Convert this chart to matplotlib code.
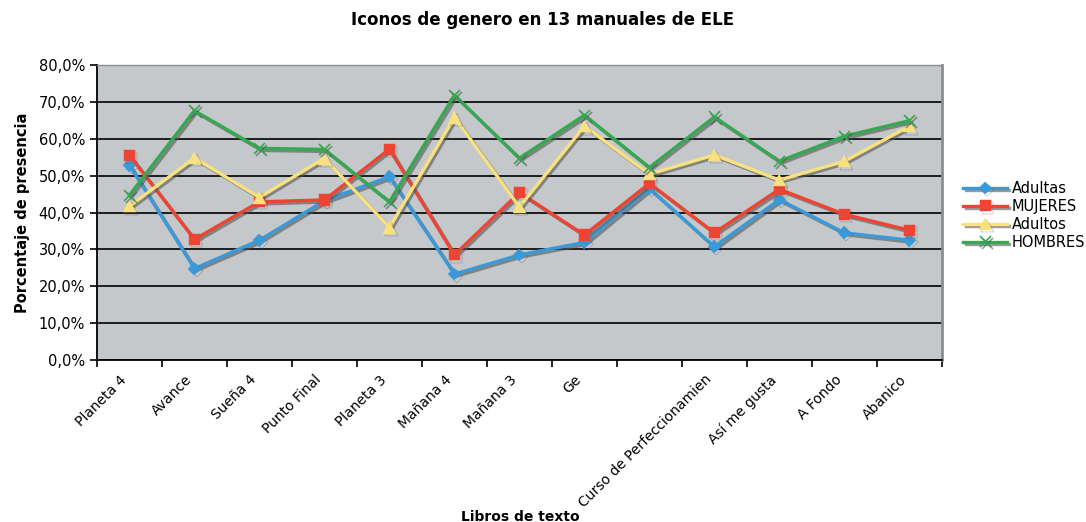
import matplotlib
matplotlib.use("Agg")
import matplotlib.pyplot as plt
import matplotlib.patheffects as pe
import matplotlib.transforms as mtransforms
from matplotlib.ticker import FuncFormatter, MultipleLocator

# libros de texto (etiquetas tal como se ven en el gráfico)
libros = ["Planeta 4", "Avance", "Sueña 4", "Punto Final", "Planeta 3", "Mañana 4",
          "Mañana 3", "Ge", "", "Curso de Perfeccionamien", "Así me gusta",
          "A Fondo", "Abanico"]

# porcentajes de presencia
adultas = [52.8, 24.8, 32.5, 43.2, 49.7, 23.3, 28.5, 31.9, 46.5, 30.7, 43.5, 34.5, 32.5]
mujeres = [55.5, 32.7, 42.9, 43.4, 57.2, 28.5, 45.4, 33.9, 47.9, 34.5, 46.3, 39.5, 35.2]
adultos = [41.7, 54.8, 44.1, 54.7, 35.9, 65.8, 41.5, 63.4, 50.4, 55.6, 48.8, 53.9, 63.4]
hombres = [44.7, 67.6, 57.4, 57.1, 42.9, 71.8, 54.7, 66.4, 52.2, 65.9, 53.9, 60.7, 64.9]

series = [
    ("Adultas", adultas, "#3A9AD9", "D", 6.5),
    ("MUJERES", mujeres, "#EE4433", "s", 8),
    ("Adultos", adultos, "#F8E17E", "^", 9),
    ("HOMBRES", hombres, "#36A852", "x", 8),
]

fig = plt.figure(figsize=(10.86, 5.22), dpi=100)
ax = fig.add_axes([0.0893, 0.3103, 0.778, 0.5652])
ax.set_facecolor("#C4C8CA")

x = list(range(len(libros)))
sombra = [pe.SimpleLineShadow(offset=(1.5, -1.5), shadow_color="#555555", alpha=0.6), pe.Normal()]
for nombre, valores, color, marcador, tam in series:
    ax.plot(x, valores, color=color, lw=2.4, marker=marcador, markersize=tam,
            markeredgewidth=1.2 if marcador == "x" else 0.3, markeredgecolor=color,
            label=nombre, path_effects=sombra, zorder=3)

ax.set_ylim(0, 80)
ax.set_xlim(-0.5, len(libros) - 0.5)
ax.yaxis.set_major_locator(MultipleLocator(10))
ax.yaxis.set_major_formatter(FuncFormatter(lambda v, p: f"{v:.1f}%".replace(".", ",")))
ax.grid(axis="y", color="black", lw=1.2)
ax.set_axisbelow(True)

# ticks del eje x entre categorías, etiquetas en el centro
ax.set_xticks(x)
ax.set_xticklabels(libros, rotation=45, ha="right", rotation_mode="anchor", fontsize=10)
ax.tick_params(axis="x", length=0, pad=9)
desplaza = mtransforms.ScaledTranslation(-10 / 100, 0, fig.dpi_scale_trans)
for t in ax.get_xticklabels():
    t.set_transform(t.get_transform() + desplaza)
ax.set_xticks([i - 0.5 for i in range(len(libros) + 1)], minor=True)
ax.tick_params(axis="x", which="minor", length=5, width=1.2, color="black")
ax.tick_params(axis="y", length=5, width=1.2, labelsize=10.5)

for s in ["left", "bottom"]:
    ax.spines[s].set_color("black")
    ax.spines[s].set_linewidth(1.3)
ax.spines["right"].set_color("#8A8E90")
ax.spines["right"].set_linewidth(2)
ax.spines["top"].set_color("#8A8E90")
ax.spines["top"].set_linewidth(1)

fig.text(0.5, 0.962, "Iconos de genero en 13 manuales de ELE", ha="center", va="center",
         fontsize=12, fontweight="bold")
fig.text(0.479, -0.004, "Libros de texto", ha="center", va="bottom", fontsize=10, fontweight="bold")
ax.set_ylabel("Porcentaje de presencia", fontsize=10.5, fontweight="bold", labelpad=6)

ax.legend(loc="center left", bbox_to_anchor=(1.01, 0.49), frameon=False, fontsize=10.5,
          handlelength=3, handletextpad=0.3, labelspacing=0.2)

fig.savefig("out.png", dpi=100)
